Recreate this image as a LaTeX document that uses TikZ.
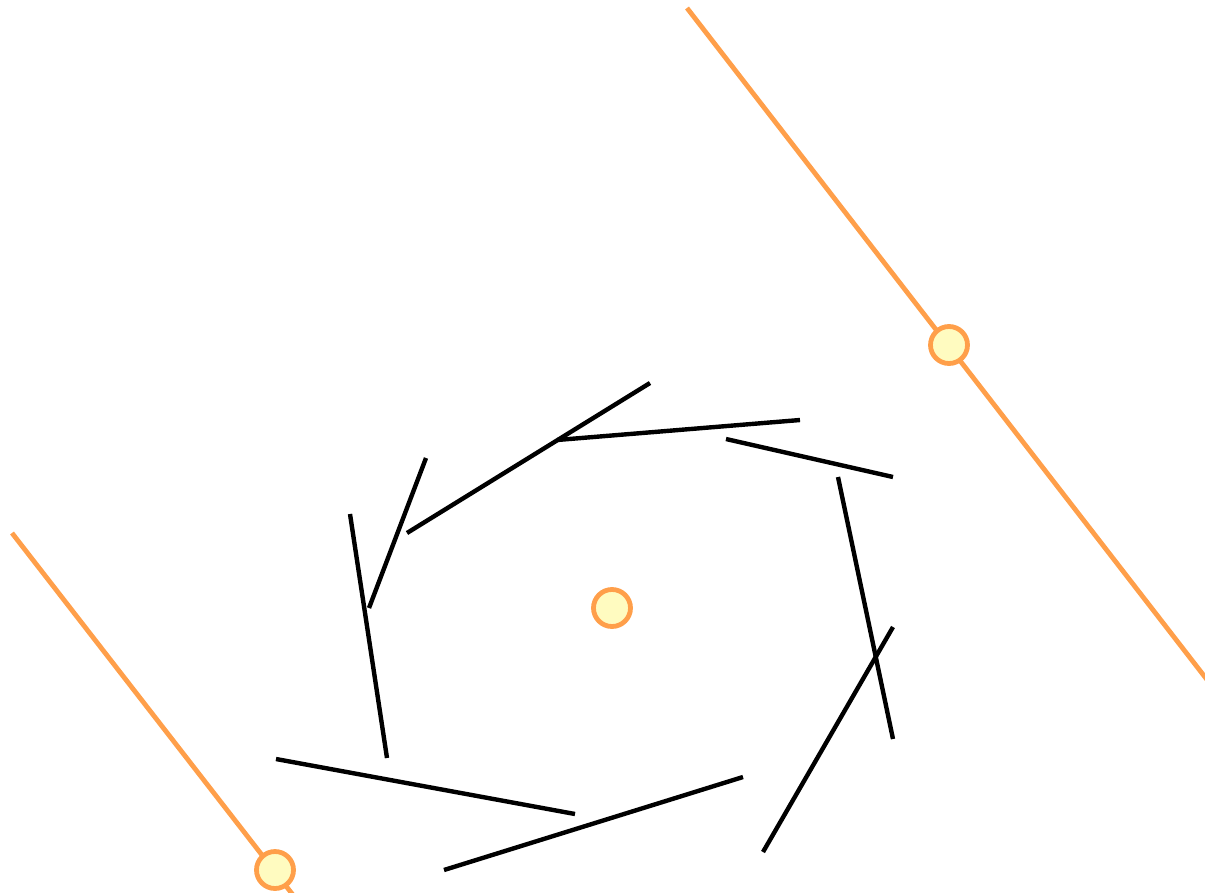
\documentclass[tikz,border=0pt]{standalone}
\definecolor{orng}{HTML}{FF9F4A}
\definecolor{pale}{HTML}{FFFBC0}
\tikzset{
  seg/.style={line width=4.4pt, black},
  oline/.style={line width=4.8pt, orng},
  dot/.style={circle, draw=orng, fill=pale, line width=4.8pt, minimum size=37pt, inner sep=0pt},
}
\begin{document}
\begin{tikzpicture}[x=1pt,y=-1pt]
\path[use as bounding box] (0,0) rectangle (1205,892);
\clip (0,0) rectangle (1205,892);
% orange lines
\coordinate (a1) at (687,8);
\coordinate (a2) at (1215,690);
\coordinate (b1) at (12,533);
\coordinate (b2) at (300,904);
\draw[oline] (a1) -- (a2);
\draw[oline] (b1) -- (b2);
% black segments
\coordinate (p1) at (407,533); \coordinate (q1) at (650,383);
\coordinate (p2) at (557,440); \coordinate (q2) at (800,420);
\coordinate (p3) at (726,439); \coordinate (q3) at (893,477);
\coordinate (p4) at (838,477); \coordinate (q4) at (893,739);
\coordinate (p5) at (893,627); \coordinate (q5) at (763,852);
\coordinate (p6) at (743,777); \coordinate (q6) at (444,870);
\coordinate (p7) at (575,814); \coordinate (q7) at (276,759);
\coordinate (p8) at (387,758); \coordinate (q8) at (350,514);
\coordinate (p9) at (369,608); \coordinate (q9) at (426,458);
\foreach \i in {1,...,9} \draw[seg] (p\i) -- (q\i);
% dots
\node[dot] (c1) at (949,345) {};
\node[dot] (c2) at (275,870) {};
\node[dot] (c0) at (612,608) {};
\end{tikzpicture}
\end{document}
